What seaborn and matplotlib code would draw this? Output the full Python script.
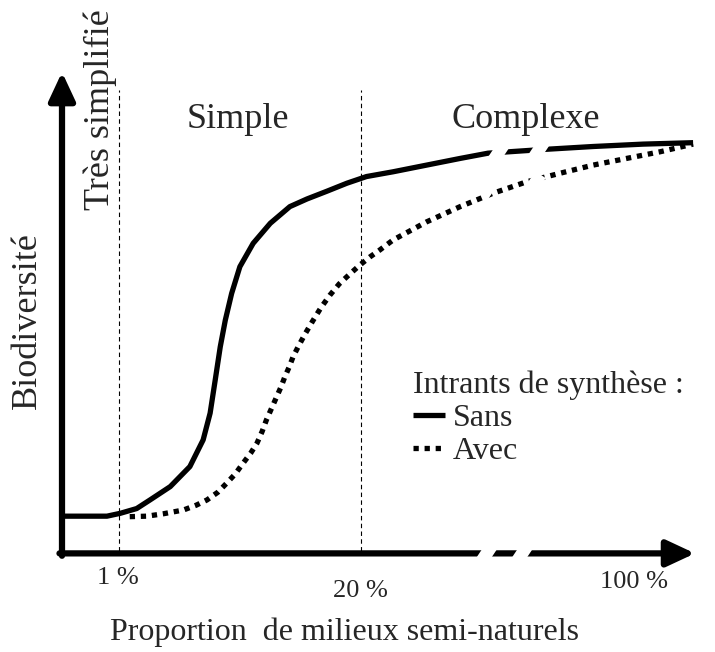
import pandas as pd
import seaborn as sns
import matplotlib.pyplot as plt

# Position along the (broken) x axis, 0-100, and biodiversity, 0-100
sans_x = [0, 7.1, 9.2, 11.8, 13.9, 17.1, 20.2, 22.3, 23.4, 24.2, 25.0, 25.8, 26.8, 28.1,
          30.2, 32.9, 36.0, 38.7, 41.8, 45.0, 48.1, 52.3, 57.6, 62.9, 67.3, 76.3,
          83.9, 91.8, 99.7]
sans_y = [7.3, 7.3, 7.9, 8.9, 10.7, 13.5, 17.7, 23.3, 28.9, 35.8, 42.8, 48.4, 54.0, 59.6,
          64.5, 68.7, 72.2, 73.8, 75.4, 77.1, 78.5, 79.5, 80.9, 82.3, 83.4, 84.2,
          84.8, 85.3, 85.6]

avec_x = [10.7, 13.4, 16.0, 19.2, 21.2, 22.9, 24.6, 26.0, 27.4, 28.6, 29.8, 30.8, 31.6,
          32.3, 33.1, 33.9, 34.6, 35.2, 35.9, 36.5, 37.3, 38.4, 39.6, 40.9, 42.3, 43.8,
          45.5, 47.1, 48.7, 50.2, 52.3, 57.6, 62.9, 68.1, 73.4, 78.7, 83.9, 89.2,
          94.5, 99.7]
avec_y = [7.2, 7.3, 7.8, 8.6, 9.6, 10.7, 12.3, 14.2, 16.2, 18.4, 20.5, 22.6, 25.0,
          27.5, 29.9, 32.3, 34.4, 36.5, 38.6, 40.7, 42.8, 45.5, 48.2, 51.0, 53.6, 56.0,
          58.1, 60.0, 61.7, 63.1, 65.2, 69.0, 72.2, 75.0, 77.4, 79.2, 80.9, 82.3,
          83.7, 85.3]

tick_labels = ["1 %", "20 %", "100 %"]
tick_pos = [8.8, 47.1, 90.4]
threshold_pos = [9.0, 47.2]          # dashed lines at 1 % and 20 %
zone_labels = ["Simple", "Complexe"]
zone_pos = [27.8, 73.3]

sns.set_theme(style="white")
plt.rcParams['font.family'] = ['Liberation Serif', 'DejaVu Serif']

fig = plt.figure(figsize=(7.15, 6.52), dpi=100)
ax = fig.add_axes([62 / 715, 101 / 652, 633 / 715, 477 / 652])
ax.set_xlim(0, 100)
ax.set_ylim(0, 100)
ax.set_axis_off()

df_sans = pd.DataFrame({"x": sans_x, "y": sans_y})
df_avec = pd.DataFrame({"x": avec_x, "y": avec_y})

sns.lineplot(data=df_sans, x="x", y="y", sort=False, color="black", lw=3.8,
             label="Sans", ax=ax, clip_on=False, solid_capstyle="butt",
             solid_joinstyle="round")
sns.lineplot(data=df_avec, x="x", y="y", sort=False, color="black", lw=3.8,
             linestyle=(0, (1, 1.1)), label="Avec", ax=ax, clip_on=False)

# dashed thresholds
for xp in threshold_pos:
    ax.plot([xp, xp], [0, 96.6], color="black", lw=0.8, ls=(0, (4, 3)), clip_on=False)

# axes as arrows
arrow = dict(arrowstyle="-|>,head_length=0.9,head_width=0.42", lw=4.5, color="black",
             mutation_scale=19, shrinkA=0, shrinkB=0)
ax.annotate("", xy=(100, -0.5), xytext=(-0.4, -0.5), arrowprops=arrow, annotation_clip=False)
ax.annotate("", xy=(0, 100.4), xytext=(0, -1.0), arrowprops=arrow, annotation_clip=False)


# axis break marks: two white slanted gaps cut through each line
def break_mark(centers, yc):
    for xc in centers:
        ax.plot([xc - 1.1, xc + 1.1], [yc - 2.2, yc + 2.2], color="white",
                lw=9, solid_capstyle="butt", clip_on=False, zorder=5)


break_mark([67.1, 72.7], -0.5)
break_mark([68.9, 75.0], 83.4)
break_mark([67.6, 74.5], 76.7)

# labels
for lab, xp in zip(zone_labels, zone_pos):
    ax.text(xp, 90.4, lab, ha="center", va="center", fontsize=26)
ax.text(6.0, 92.5, "Très simplifié", rotation=90, ha="center", va="center", fontsize=26)
ax.text(-5.5, 48.4, "Biodiversité", rotation=90, ha="center", va="center", fontsize=26)

for lab, xp, yp in zip(tick_labels, tick_pos, [-5.7, -8.4, -6.5]):
    ax.text(xp, yp, lab, ha="center", va="center", fontsize=19)
ax.text(44.7, -17.0, "Proportion  de milieux semi-naturels", ha="center", va="center",
        fontsize=23)

leg = ax.legend(title="Intrants de synthèse :", loc="upper left",
                bbox_to_anchor=(413 / 715, 1 - 370 / 652), bbox_transform=fig.transFigure,
                frameon=False, fontsize=23, title_fontsize=23, handlelength=1.0,
                handletextpad=0.25, borderpad=0, labelspacing=0.12, borderaxespad=0)
leg._legend_box.align = "left"

fig.savefig("out.png", dpi=100)
